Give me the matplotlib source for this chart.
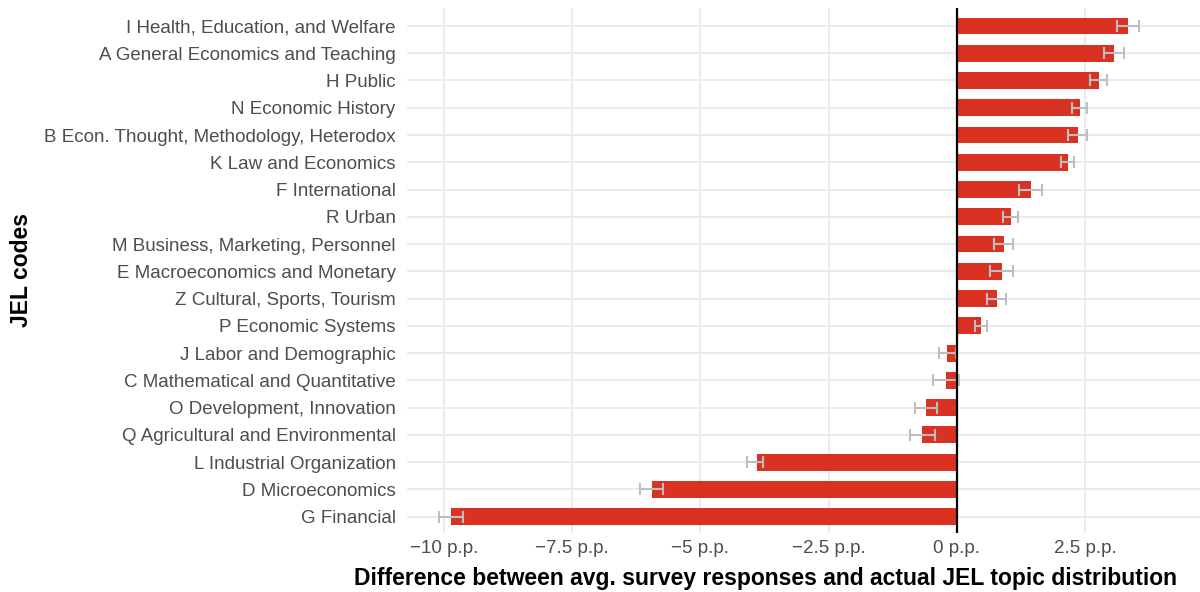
import matplotlib.pyplot as plt

# JEL codes, bottom to top
codes = ["G Financial", "D Microeconomics", "L Industrial Organization",
         "Q Agricultural and Environmental", "O Development, Innovation",
         "C Mathematical and Quantitative", "J Labor and Demographic",
         "P Economic Systems", "Z Cultural, Sports, Tourism",
         "E Macroeconomics and Monetary", "M Business, Marketing, Personnel",
         "R Urban", "F International", "K Law and Economics",
         "B Econ. Thought, Methodology, Heterodox", "N Economic History",
         "H Public", "A General Economics and Teaching",
         "I Health, Education, and Welfare"]
diff = [-9.86, -5.94, -3.90, -0.68, -0.60, -0.21, -0.19, 0.47, 0.78, 0.88,
        0.92, 1.05, 1.44, 2.16, 2.36, 2.40, 2.77, 3.06, 3.33]
err_lo = [-10.10, -6.18, -4.08, -0.92, -0.82, -0.47, -0.35, 0.35, 0.58, 0.64,
          0.72, 0.90, 1.21, 2.03, 2.16, 2.24, 2.59, 2.87, 3.12]
err_hi = [-9.63, -5.73, -3.78, -0.43, -0.39, 0.04, -0.02, 0.58, 0.96, 1.09,
          1.09, 1.19, 1.66, 2.28, 2.53, 2.53, 2.92, 3.26, 3.55]

ticks = [-10, -7.5, -5, -2.5, 0, 2.5]
tick_labels = ["\u221210 p.p.", "\u22127.5 p.p.", "\u22125 p.p.", "\u22122.5 p.p.", "0 p.p.", "2.5 p.p."]

plt.rcParams['font.family'] = ['Liberation Sans', 'DejaVu Sans']

fig = plt.figure(figsize=(12, 5.92), dpi=100)
ax = fig.add_axes([0.339, 0.0997, 0.661, 0.8868])

y = list(range(len(codes)))
ax.barh(y, diff, height=0.62, color="#D93223", zorder=2)
xerr = [[d - lo for d, lo in zip(diff, err_lo)], [hi - d for d, hi in zip(diff, err_hi)]]
ax.errorbar(diff, y, xerr=xerr, fmt="none", ecolor="#BEBEBE", elinewidth=1.5,
            capsize=4.2, capthick=1.5, zorder=3)
ax.axvline(0, color="black", lw=1.6, zorder=4)

ax.set_xlim(-10.72, 4.74)
ax.set_ylim(-0.6, len(codes) - 1 + 0.66)
ax.set_xticks(ticks)
ax.set_xticklabels(tick_labels)
ax.set_yticks(y)
ax.set_yticklabels(codes)
ax.tick_params(axis="both", length=0, labelsize=13.5, labelcolor="#4D4D4D")
ax.tick_params(axis="x", pad=5)
ax.tick_params(axis="y", pad=8)
ax.grid(True, color="#EBEBEB", lw=1.4, zorder=0)
ax.set_axisbelow(True)
for s in ax.spines.values():
    s.set_visible(False)

fig.text(765 / 1200, 1 - 578 / 592, "Difference between avg. survey responses and actual JEL topic distribution",
         fontsize=16.5, fontweight="bold", ha="center", va="center")
fig.text(22 / 1200, 1 - 270 / 592, "JEL codes", rotation=90, fontsize=16.5, fontweight="bold",
         va="center", ha="center")

fig.savefig("out.png", dpi=100)
